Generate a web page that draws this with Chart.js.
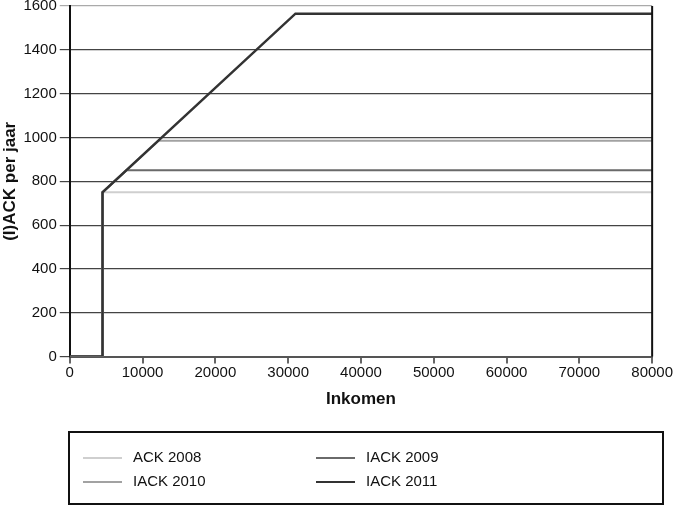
<!DOCTYPE html>
<html>
<head>
<meta charset="utf-8">
<script src="https://cdn.jsdelivr.net/npm/chart.js@4/dist/chart.umd.min.js"></script>
<style>
  body { margin: 0; background: #fff; }
  #wrap { width: 675px; height: 507px; }
</style>
</head>
<body>
<div id="wrap"><canvas id="ackChart" width="675" height="507"></canvas></div>
<script>
// data (income in euro, credit per year)
const seriesLabels = ['ACK 2008', 'IACK 2009', 'IACK 2010', 'IACK 2011'];
const seriesColors = ['#cfcfcf', '#6a6a6a', '#a2a2a2', '#333333'];

const ack2008X = [0, 4500, 4500, 80000];
const ack2008Y = [0, 0, 750, 750];
const iack2009X = [0, 4500, 4500, 7800, 80000];
const iack2009Y = [0, 0, 750, 850, 850];
const iack2010X = [0, 4500, 4500, 12200, 80000];
const iack2010Y = [0, 0, 750, 985, 985];
const iack2011X = [0, 4500, 4500, 31000, 80000];
const iack2011Y = [0, 0, 750, 1565, 1565];

const xTicks = [0, 10000, 20000, 30000, 40000, 50000, 60000, 70000, 80000];
const yTicks = [0, 200, 400, 600, 800, 1000, 1200, 1400, 1600];

const allX = [ack2008X, iack2009X, iack2010X, iack2011X];
const allY = [ack2008Y, iack2009Y, iack2010Y, iack2011Y];

function pts(xs, ys) {
    return xs.map((x, i) => ({ x: x, y: ys[i] }));
}

const fontName = '"Liberation Sans", Arial, sans-serif';

// legend box + right border drawn on the canvas
const extras = {
    id: 'extras',
    afterDraw(chart) {
        const ctx = chart.ctx;
        const area = chart.chartArea;
        ctx.save();
        ctx.strokeStyle = '#111';
        ctx.lineWidth = 2;
        ctx.beginPath();
        ctx.moveTo(area.right, area.top);
        ctx.lineTo(area.right, area.bottom);
        ctx.stroke();

        ctx.strokeRect(69, 432, 594, 72);

        ctx.font = '15px ' + fontName;
        ctx.textBaseline = 'middle';
        ctx.fillStyle = '#111';
        for (let i = 0; i < seriesLabels.length; i++) {
            const col = i % 2;
            const row = Math.floor(i / 2);
            const x0 = col === 0 ? 83 : 316;
            const y0 = row === 0 ? 458 : 482;
            ctx.strokeStyle = seriesColors[i];
            ctx.lineWidth = 2;
            ctx.beginPath();
            ctx.moveTo(x0, y0);
            ctx.lineTo(x0 + 39, y0);
            ctx.stroke();
            ctx.fillText(seriesLabels[i], x0 + 50, y0);
        }
        ctx.restore();
    }
};

const datasets = seriesLabels.map((label, i) => ({
    label: label,
    data: pts(allX[i], allY[i]),
    borderColor: seriesColors[i],
    borderWidth: i === 3 ? 2.5 : 2,
    pointRadius: 0,
    tension: 0,
    fill: false,
    order: seriesLabels.length - i
}));

new Chart(document.getElementById('ackChart'), {
    type: 'line',
    data: { datasets: datasets },
    options: {
        responsive: false,
        animation: false,
        layout: { padding: { top: 0, right: 0, left: 0, bottom: 97 } },
        plugins: {
            legend: { display: false },
            tooltip: { enabled: false }
        },
        scales: {
            x: {
                type: 'linear',
                min: 0,
                max: 80000,
                afterBuildTicks: (axis) => { axis.ticks = xTicks.map(v => ({ value: v })); },
                ticks: {
                    color: '#111',
                    font: { family: fontName, size: 15, lineHeight: 1.0 },
                    maxRotation: 0,
                    padding: 2,
                    callback: (v) => String(v)
                },
                grid: {
                    drawOnChartArea: false,
                    drawTicks: true,
                    tickLength: 7,
                    color: '#666',
                    lineWidth: 2
                },
                border: { display: true, color: '#555', width: 2 },
                title: {
                    display: true,
                    text: 'Inkomen',
                    color: '#111',
                    font: { family: fontName, size: 17, weight: 'bold' },
                    padding: { top: 7, bottom: 0 }
                }
            },
            y: {
                type: 'linear',
                min: 0,
                max: 1600,
                afterBuildTicks: (axis) => { axis.ticks = yTicks.map(v => ({ value: v })); },
                ticks: {
                    color: '#111',
                    font: { family: fontName, size: 15, lineHeight: 0.4 },
                    padding: 3,
                    callback: (v) => String(v)
                },
                grid: {
                    color: (c) => c.tick && c.tick.value === 1600 ? '#aaa' : '#444',
                    lineWidth: 1.2,
                    tickLength: 10
                },
                border: { display: true, color: '#111', width: 2 },
                title: {
                    display: true,
                    text: '(I)ACK per jaar',
                    color: '#111',
                    font: { family: fontName, size: 17, weight: 'bold' },
                    padding: { top: 0, bottom: 0 }
                }
            }
        }
    },
    plugins: [extras]
});
</script>
</body>
</html>
